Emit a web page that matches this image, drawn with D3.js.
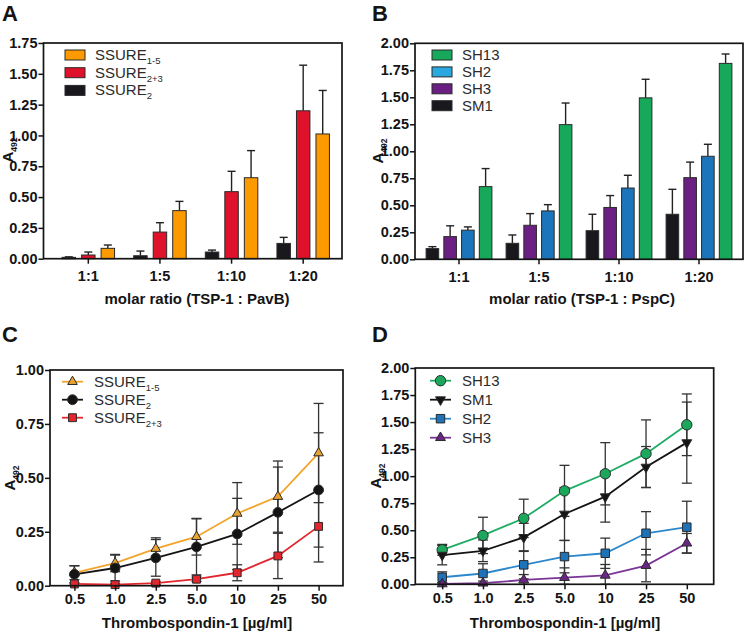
<!DOCTYPE html>
<html><head><meta charset="utf-8">
<script src="https://cdn.jsdelivr.net/npm/d3@7"></script>
<style>
body{margin:0;background:#fff}
svg{display:block}
text{font-family:"Liberation Sans",Arial,Helvetica,sans-serif}
</style>
</head><body>
<svg id="chart" width="745" height="633"></svg>
<script>
// ---------- DATA ----------
// Panel A (bars): molar ratio TSP-1 : PavB
const catsA = ["1:1", "1:5", "1:10", "1:20"];
const a_ssure2 = [0.011, 0.024, 0.054, 0.124];
const a_ssure2Err = [0.004, 0.038, 0.016, 0.049];
const a_ssure23 = [0.030, 0.216, 0.544, 1.200];
const a_ssure23Err = [0.024, 0.076, 0.165, 0.370];
const a_ssure15 = [0.084, 0.390, 0.657, 1.012];
const a_ssure15Err = [0.027, 0.075, 0.220, 0.353];
const yTicksA = [0, 0.25, 0.5, 0.75, 1.0, 1.25, 1.5, 1.75];

// Panel B (bars): molar ratio TSP-1 : PspC
const catsB = ["1:1", "1:5", "1:10", "1:20"];
const b_sm1 = [0.099, 0.148, 0.265, 0.417];
const b_sm1Err = [0.018, 0.077, 0.152, 0.231];
const b_sh3 = [0.210, 0.315, 0.480, 0.756];
const b_sh3Err = [0.100, 0.108, 0.110, 0.144];
const b_sh2 = [0.270, 0.448, 0.660, 0.954];
const b_sh2Err = [0.030, 0.058, 0.118, 0.111];
const b_sh13 = [0.673, 1.247, 1.495, 1.814];
const b_sh13Err = [0.167, 0.200, 0.172, 0.087];
const yTicksB = [0, 0.25, 0.5, 0.75, 1.0, 1.25, 1.5, 1.75, 2.0];

// Panel C (lines): Thrombospondin-1 [µg/ml]
const concC = ["0.5", "1.0", "2.5", "5.0", "10", "25", "50"];
const c_ssure15 = [0.060, 0.105, 0.172, 0.227, 0.335, 0.413, 0.615];
const c_ssure15Err = [0.032, 0.040, 0.050, 0.085, 0.143, 0.165, 0.230];
const c_ssure2 = [0.053, 0.082, 0.129, 0.180, 0.240, 0.340, 0.444];
const c_ssure2Err = [0.040, 0.060, 0.085, 0.130, 0.165, 0.210, 0.265];
const c_ssure23 = [0.008, 0.005, 0.012, 0.030, 0.060, 0.138, 0.275];
const c_ssure23Err = [0.005, 0.004, 0.006, 0.010, 0.037, 0.105, 0.165];
const yTicksC = [0, 0.25, 0.5, 0.75, 1.0];

// Panel D (lines)
const concD = ["0.5", "1.0", "2.5", "5.0", "10", "25", "50"];
const d_sh13 = [0.319, 0.452, 0.610, 0.864, 1.022, 1.208, 1.475];
const d_sh13Err = [0.050, 0.168, 0.177, 0.236, 0.288, 0.312, 0.285];
const d_sm1 = [0.270, 0.310, 0.434, 0.650, 0.810, 1.084, 1.310];
const d_sm1Err = [0.090, 0.100, 0.130, 0.245, 0.235, 0.190, 0.375];
const d_sh2 = [0.065, 0.100, 0.180, 0.256, 0.287, 0.472, 0.528];
const d_sh2Err = [0.050, 0.090, 0.130, 0.150, 0.140, 0.200, 0.240];
const d_sh3 = [0.003, 0.010, 0.040, 0.062, 0.083, 0.173, 0.380];
const d_sh3Err = [0.010, 0.020, 0.050, 0.090, 0.100, 0.150, 0.090];
const yTicksD = [0, 0.25, 0.5, 0.75, 1.0, 1.25, 1.5, 1.75, 2.0];

// ---------- DRAWING ----------
const svg = d3.select("#chart");
const fmt = d3.format(".2f");
const INK = "#141414";
const TICK_FS = 14.5;

function letter(x, y, t) {
  svg.append("text").attr("x", x).attr("y", y).text(t)
    .attr("font-size", 22).attr("font-weight", "bold").attr("fill", INK);
}

function labelWithSub(sel, main, sub, subSize, shift) {
  sel.append("tspan").text(main);
  if (sub) sel.append("tspan").text(sub).attr("font-size", subSize).attr("dy", shift);
}

function yTitle(x, cy) {
  const t = svg.append("text").attr("transform", `translate(${x},${cy}) rotate(-90)`)
    .attr("text-anchor", "middle").attr("font-size", 15).attr("font-weight", "bold").attr("fill", INK);
  labelWithSub(t, "A", "492", 8.5, 3.5);
}

function yAxis(box, y, ticks, pad) {
  const g = svg.append("g").attr("transform", `translate(${box.l},0)`)
    .call(d3.axisLeft(y).tickValues(ticks).tickFormat(fmt).tickSize(5).tickPadding(pad));
  g.select(".domain").remove();
  g.selectAll(".tick line").attr("stroke", INK).attr("stroke-width", 1.5);
  g.selectAll(".tick text").attr("font-size", TICK_FS).attr("font-weight", "bold")
    .attr("fill", INK).attr("font-family", "Liberation Sans, Arial, sans-serif");
}

function xAxis(box, x, pad) {
  const g = svg.append("g").attr("transform", `translate(0,${box.b})`)
    .call(d3.axisBottom(x).tickSize(5).tickPadding(pad));
  g.select(".domain").remove();
  g.selectAll(".tick line").attr("stroke", INK).attr("stroke-width", 1.5);
  g.selectAll(".tick text").attr("font-size", TICK_FS).attr("font-weight", "bold")
    .attr("fill", INK).attr("font-family", "Liberation Sans, Arial, sans-serif");
}

function frameRect(box) {
  svg.append("rect").attr("x", box.l).attr("y", box.t)
    .attr("width", box.r - box.l).attr("height", box.b - box.t)
    .attr("fill", "none").attr("stroke", INK).attr("stroke-width", 1.7);
}

function xTitle(cx, y, t) {
  svg.append("text").attr("x", cx).attr("y", y).attr("text-anchor", "middle")
    .attr("font-size", 15).attr("font-weight", "bold").attr("fill", INK).text(t);
}

function barPanel(cfg) {
  const box = cfg.box;
  const y = d3.scaleLinear().domain([0, cfg.yMax]).range([box.b, box.t]);
  const x0 = d3.scaleBand().domain(cfg.cats).range(cfg.xRange).paddingInner(0).paddingOuter(0);
  const x1 = d3.scaleBand().domain(cfg.series.map(s => s.key)).range([0, x0.bandwidth()])
    .paddingInner(cfg.pIn).paddingOuter(cfg.pOut);
  const bw = x1.bandwidth();
  cfg.series.forEach(s => {
    const g = svg.append("g");
    cfg.cats.forEach((c, i) => {
      const cx = x0(c) + x1(s.key) + bw / 2;
      const v = s.vals[i], e = s.errs[i];
      g.append("line").attr("x1", cx).attr("x2", cx).attr("y1", y(v)).attr("y2", y(v + e))
        .attr("stroke", "#222").attr("stroke-width", 1.4);
      g.append("line").attr("x1", cx - 4).attr("x2", cx + 4).attr("y1", y(v + e)).attr("y2", y(v + e))
        .attr("stroke", "#222").attr("stroke-width", 1.4);
      g.append("rect").attr("x", x0(c) + x1(s.key)).attr("y", y(v))
        .attr("width", bw).attr("height", y(0) - y(v))
        .attr("fill", s.color).attr("stroke", "#2a2a2a").attr("stroke-width", 1);
    });
  });
  frameRect(box);
  yAxis(box, y, cfg.yTicks, 1);
  xAxis(box, x0, 7);
  cfg.legend.forEach((s, i) => {
    const ly = cfg.leg.y + i * cfg.leg.dy;
    svg.append("rect").attr("x", cfg.leg.x).attr("y", ly - 5).attr("width", 20).attr("height", 10)
      .attr("fill", s.legendColor || s.color).attr("stroke", "#2a2a2a").attr("stroke-width", 1);
    const t = svg.append("text").attr("x", cfg.leg.x + 30).attr("y", ly + 5)
      .attr("font-size", 15).attr("fill", "#2b2b2b");
    labelWithSub(t, s.name, s.sub, 9.5, 4);
  });
}

function linePanel(cfg) {
  const box = cfg.box;
  const y = d3.scaleLinear().domain([0, cfg.yMax]).range([box.b, box.t]);
  const x = d3.scalePoint().domain(cfg.cats).range([box.l, box.r]).padding(cfg.pad);
  const sym = (s) => d3.symbol().type(s.shape).size(s.size)();
  cfg.series.forEach(s => {
    const g = svg.append("g");
    cfg.cats.forEach((c, i) => {
      const cx = x(c), v = s.vals[i], e = s.errs[i];
      const lo = Math.max(0, v - e), hi = v + e;
      g.append("line").attr("x1", cx).attr("x2", cx).attr("y1", y(lo)).attr("y2", y(hi))
        .attr("stroke", "#333").attr("stroke-width", 1.3);
      [lo, hi].forEach(w => g.append("line").attr("x1", cx - 5).attr("x2", cx + 5)
        .attr("y1", y(w)).attr("y2", y(w)).attr("stroke", "#333").attr("stroke-width", 1.3));
    });
  });
  const line = d3.line().x((d, i) => x(cfg.cats[i])).y(d => y(d));
  cfg.series.forEach(s => {
    svg.append("path").datum(s.vals).attr("d", line).attr("fill", "none")
      .attr("stroke", s.line).attr("stroke-width", 1.8);
  });
  cfg.series.forEach(s => {
    cfg.cats.forEach((c, i) => {
      svg.append("path").attr("d", sym(s))
        .attr("transform", `translate(${x(c)},${y(s.vals[i])})${s.flip ? " rotate(180)" : ""}`)
        .attr("fill", s.fill).attr("stroke", "#2a2a2a").attr("stroke-width", 1);
    });
  });
  frameRect(box);
  yAxis(box, y, cfg.yTicks, 1);
  xAxis(box, x, 3);
  cfg.legend.forEach((s, i) => {
    const ly = cfg.leg.y + i * cfg.leg.dy;
    svg.append("line").attr("x1", cfg.leg.x).attr("x2", cfg.leg.x + 21).attr("y1", ly).attr("y2", ly)
      .attr("stroke", s.line).attr("stroke-width", 1.8);
    svg.append("path").attr("d", sym(s))
      .attr("transform", `translate(${cfg.leg.x + 10.5},${ly})${s.flip ? " rotate(180)" : ""}`)
      .attr("fill", s.fill).attr("stroke", "#2a2a2a").attr("stroke-width", 1);
    const t = svg.append("text").attr("x", cfg.leg.x + 32).attr("y", ly + 5)
      .attr("font-size", 15).attr("fill", "#2b2b2b");
    labelWithSub(t, s.name, s.sub, 9.5, 4);
  });
}

// ---- Panel A ----
const serA = [
  {key: "s2", name: "SSURE", sub: "2", vals: a_ssure2, errs: a_ssure2Err, color: "#19181d"},
  {key: "s23", name: "SSURE", sub: "2+3", vals: a_ssure23, errs: a_ssure23Err, color: "#e0112b"},
  {key: "s15", name: "SSURE", sub: "1-5", vals: a_ssure15, errs: a_ssure15Err, color: "#fd9a00"}
];
barPanel({
  box: {l: 43.5, t: 43, r: 342, b: 258.7},
  cats: catsA, series: serA, yMax: 1.75, yTicks: yTicksA,
  xRange: [52.5, 339], pIn: 0.31, pOut: 0.49,
  legend: [serA[2], serA[1], serA[0]],
  leg: {x: 65, y: 55, dy: 17.7}
});
letter(2, 21, "A");
yTitle(13, 150);
xTitle(197, 304, "molar ratio (TSP-1 : PavB)");

// ---- Panel B ----
const serB = [
  {key: "sm1", name: "SM1", vals: b_sm1, errs: b_sm1Err, color: "#19181d"},
  {key: "sh3", name: "SH3", vals: b_sh3, errs: b_sh3Err, color: "#6c1f82"},
  {key: "sh2", name: "SH2", vals: b_sh2, errs: b_sh2Err, color: "#1c74ba", legendColor: "#2aa9e0"},
  {key: "sh13", name: "SH13", vals: b_sh13, errs: b_sh13Err, color: "#16a95b"}
];
barPanel({
  box: {l: 415, t: 43.3, r: 743, b: 259.3},
  cats: catsB, series: serB, yMax: 2.0, yTicks: yTicksB,
  xRange: [419, 739], pIn: 0.29, pOut: 0.4,
  legend: [serB[3], serB[2], serB[1], serB[0]],
  leg: {x: 432, y: 55, dy: 16.9}
});
letter(372, 21, "B");
yTitle(383, 151);
xTitle(582, 304, "molar ratio (TSP-1 : PspC)");

// ---- Panel C ----
const serC = [
  {name: "SSURE", sub: "1-5", vals: c_ssure15, errs: c_ssure15Err, line: "#f2a42a", fill: "#e8a232", shape: d3.symbolTriangle, size: 40},
  {name: "SSURE", sub: "2", vals: c_ssure2, errs: c_ssure2Err, line: "#141414", fill: "#141414", shape: d3.symbolCircle, size: 75},
  {name: "SSURE", sub: "2+3", vals: c_ssure23, errs: c_ssure23Err, line: "#e3262e", fill: "#e3262e", shape: d3.symbolSquare, size: 62}
];
linePanel({
  box: {l: 50, t: 370, r: 343, b: 585.7},
  cats: concC, series: serC, yMax: 1.0, yTicks: yTicksC, pad: 0.6,
  legend: serC,
  leg: {x: 62, y: 381.7, dy: 18}
});
letter(2, 342, "C");
yTitle(15, 478);
xTitle(197, 628, "Thrombospondin-1 [µg/ml]");

// ---- Panel D ----
const serD = [
  {name: "SH13", vals: d_sh13, errs: d_sh13Err, line: "#1fac63", fill: "#1ca85c", shape: d3.symbolCircle, size: 85},
  {name: "SM1", vals: d_sm1, errs: d_sm1Err, line: "#141414", fill: "#141414", shape: d3.symbolTriangle, size: 42, flip: true},
  {name: "SH2", vals: d_sh2, errs: d_sh2Err, line: "#2b88cc", fill: "#1d72b8", shape: d3.symbolSquare, size: 72},
  {name: "SH3", vals: d_sh3, errs: d_sh3Err, line: "#7a3596", fill: "#6a2685", shape: d3.symbolTriangle, size: 42}
];
linePanel({
  box: {l: 415.3, t: 368, r: 713.7, b: 584.3},
  cats: concD, series: serD, yMax: 2.0, yTicks: yTicksD, pad: 0.66,
  legend: serD,
  leg: {x: 430, y: 380.7, dy: 19}
});
letter(372, 342, "D");
yTitle(381, 476);
xTitle(565, 628, "Thrombospondin-1 [µg/ml]");
</script>
</body></html>
